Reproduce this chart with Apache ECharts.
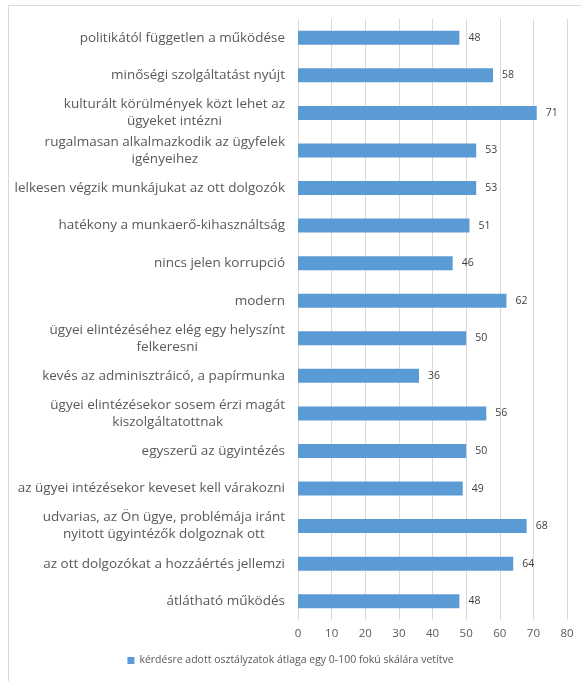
<!DOCTYPE html>
<html><head><meta charset="utf-8">
<script src="https://cdn.jsdelivr.net/npm/echarts@6/dist/echarts.min.js"></script>
<style>html,body{margin:0;padding:0;background:#fff}#c{width:581px;height:681px}</style>
</head><body><div id="c"></div>
<script>
var categories = [
  "politikától független a működése",
  "minőségi szolgáltatást nyújt",
  "kulturált körülmények közt lehet az\nügyeket intézni",
  "rugalmasan alkalmazkodik az ügyfelek\nigényeihez",
  "lelkesen végzik munkájukat az ott dolgozók",
  "hatékony a munkaerő-kihasználtság",
  "nincs jelen korrupció",
  "modern",
  "ügyei elintézéséhez elég egy helyszínt\nfelkeresni",
  "kevés az adminisztráicó, a papírmunka",
  "ügyei elintézésekor sosem érzi magát\nkiszolgáltatottnak",
  "egyszerű az ügyintézés",
  "az ügyei intézésekor keveset kell várakozni",
  "udvarias, az Ön ügye, problémája iránt\nnyitott ügyintézők dolgoznak ott",
  "az ott dolgozókat a hozzáértés jellemzi",
  "átlátható működés"
];
var values = [48, 58, 71, 53, 53, 51, 46, 62, 50, 36, 56, 50, 49, 68, 64, 48];
var seriesName = "kérdésre adott osztályzatok átlaga egy 0-100 fokú skálára vetítve";
var xTicks = [0, 80, 10];

var FONT = "Open Sans";
var chart = echarts.init(document.getElementById('c'));
chart.setOption({
  animation: false,
  textStyle: {fontFamily: FONT},
  graphic: [{type: 'rect', left: 6, top: 3, shape: {width: 700, height: 800}, style: {fill: 'none', stroke: '#d9d9d9', lineWidth: 1}, silent: true}],
  grid: {left: 298, right: 14, top: 19, bottom: 61, containLabel: false},
  legend: {
    bottom: 10, left: 'center', itemWidth: 7, itemHeight: 7, icon: 'rect', itemGap: 5,
    textStyle: {color: '#595959', fontSize: 10.5, fontFamily: FONT},
    data: [seriesName]
  },
  xAxis: {
    type: 'value', min: xTicks[0], max: xTicks[1], interval: xTicks[2],
    axisLine: {show: false}, axisTick: {show: false},
    splitLine: {show: true, lineStyle: {color: '#d9d9d9', width: 1}},
    axisLabel: {color: '#595959', fontSize: 11.5, margin: 8, fontFamily: FONT}
  },
  yAxis: {
    type: 'category', data: categories, inverse: true,
    axisLine: {show: false}, axisTick: {show: false},
    axisLabel: {
      margin: 13, fontSize: 13.5, color: '#595959', fontFamily: FONT,
      formatter: function (v) { return v.split('\n').map(function (l) { return '{c|' + l + '}'; }).join('\n'); },
      rich: {c: {align: 'center', fontSize: 13.5, color: '#595959', fontFamily: FONT, lineHeight: 17}}
    }
  },
  series: [{
    name: seriesName, type: 'bar', data: values, barWidth: 14,
    itemStyle: {color: '#5b9bd5'},
    label: {show: true, position: 'right', distance: 9, color: '#404040', fontSize: 10.5, fontFamily: FONT}
  }]
});
</script></body></html>
